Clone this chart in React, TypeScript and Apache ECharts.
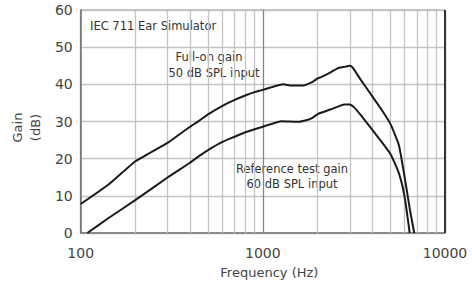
import React, { useEffect, useRef } from "react";
import * as echarts from "echarts";

const freqUpper = [100, 141, 200, 301, 398, 450, 500, 600, 700, 800, 900, 1000, 1110, 1290, 1440, 1670, 1860, 2000, 2100, 2270, 2570, 2800, 3000, 3100, 3450, 4000, 4440, 5000, 5580, 6000, 6420, 6780];
const gainUpper = [7.8, 12.9, 19.3, 24.3, 28.6, 30.3, 31.9, 34.2, 35.8, 37.0, 37.9, 38.5, 39.2, 40.0, 39.7, 39.7, 40.6, 41.6, 42.0, 42.8, 44.3, 44.7, 45.0, 44.6, 41.2, 36.7, 33.5, 29.5, 23.7, 15.1, 6.2, 0];

const freqLower = [108.7, 141, 200, 301, 398, 450, 500, 600, 700, 800, 900, 1000, 1270, 1570, 1750, 1860, 2000, 2370, 2800, 3000, 3170, 3450, 4000, 5000, 5580, 6000, 6400];
const gainLower = [0, 3.9, 8.9, 15.0, 18.9, 20.8, 22.3, 24.5, 25.9, 27.1, 27.9, 28.6, 30.1, 29.9, 30.4, 30.9, 32.0, 33.3, 34.6, 34.6, 33.8, 31.7, 27.7, 21.4, 16.1, 9.8, 0];

const minorFreqs = [200, 300, 400, 500, 600, 700, 800, 900, 2000, 3000, 4000, 5000, 6000, 7000, 8000, 9000];

const FONT = "DejaVu Sans";

export default function App() {
  const ref = useRef<HTMLDivElement>(null);
  useEffect(() => {
    if (!ref.current) return;
    const chart = echarts.init(ref.current, null, { renderer: "svg" });
    chart.setOption({
      animation: false,
      backgroundColor: "#fff",
      textStyle: { fontFamily: FONT },
      grid: {
        left: 76,
        right: 27,
        top: 10,
        bottom: 53,
        show: true,
        borderColor: "#8a8a8a",
        borderWidth: 1,
      },
      xAxis: {
        type: "log",
        logBase: 10,
        min: 100,
        max: 10000,
        name: "Frequency (Hz)",
        nameLocation: "middle",
        nameGap: 33,
        nameTextStyle: { fontFamily: FONT, fontSize: 13, color: "#444", padding: [0, 0, 0, 13] },
        axisLine: { show: true, lineStyle: { color: "#777", width: 1.5 } },
        axisTick: { show: false },
        axisLabel: { fontFamily: FONT, fontSize: 14, color: "#444", margin: 13, formatter: (v: number) => String(Math.round(v)) },
        splitLine: { show: true, lineStyle: { color: "#858585", width: 1.3 } },
      },
      yAxis: {
        type: "value",
        min: 0,
        max: 60,
        interval: 10,
        name: "Gain\n(dB)",
        nameLocation: "middle",
        nameGap: 36,
        nameRotate: 90,
        nameTextStyle: { fontFamily: FONT, fontSize: 13, color: "#444", lineHeight: 18, padding: [0, 12, 0, 0] },
        axisLine: { show: true, lineStyle: { color: "#777", width: 1.5 } },
        axisTick: { show: false },
        axisLabel: { fontFamily: FONT, fontSize: 14, color: "#444", margin: 8 },
        splitLine: { show: true, lineStyle: { color: "#c4c4c4", width: 1.3 } },
      },
      graphic: [
        { type: "text", left: 90, top: 20, style: { text: "IEC 711 Ear Simulator", font: `11.5px "${FONT}"`, fill: "#333" } },
        { type: "text", x: 209, y: 57, style: { text: "Full-on gain", font: `11.5px "${FONT}"`, fill: "#333", align: "center", verticalAlign: "middle" } },
        { type: "text", x: 214, y: 73, style: { text: "50 dB SPL input", font: `11.5px "${FONT}"`, fill: "#333", align: "center", verticalAlign: "middle" } },
        { type: "text", x: 292, y: 169, style: { text: "Reference test gain", font: `11.5px "${FONT}"`, fill: "#333", align: "center", verticalAlign: "middle" } },
        { type: "text", x: 292, y: 184, style: { text: "60 dB SPL input", font: `11.5px "${FONT}"`, fill: "#333", align: "center", verticalAlign: "middle" } },
      ],
      series: [
        {
          type: "line",
          data: [],
          silent: true,
          markLine: {
            silent: true,
            symbol: ["none", "none"],
            label: { show: false },
            lineStyle: { color: "#c4c4c4", type: "solid", width: 1.3 },
            data: minorFreqs.map((f) => ({ xAxis: f })),
          },
        },
        {
          type: "line",
          data: [],
          silent: true,
          markLine: {
            silent: true,
            symbol: ["none", "none"],
            label: { show: false },
            lineStyle: { color: "#333", type: "solid", width: 2 },
            data: [{ xAxis: 10000 }],
          },
        },
        {
          type: "line",
          name: "Full-on gain",
          data: freqUpper.map((f, i) => [f, gainUpper[i]]),
          showSymbol: false,
          smooth: 0.15,
          lineStyle: { color: "#1a1a1a", width: 2 },
          z: 5,
        },
        {
          type: "line",
          name: "Reference test gain",
          data: freqLower.map((f, i) => [f, gainLower[i]]),
          showSymbol: false,
          smooth: 0.15,
          lineStyle: { color: "#1a1a1a", width: 2 },
          z: 5,
        },
      ],
    });
    return () => chart.dispose();
  }, []);
  return <div ref={ref} style={{ width: 472, height: 286, position: "absolute", left: 0, top: 0 }} />;
}
